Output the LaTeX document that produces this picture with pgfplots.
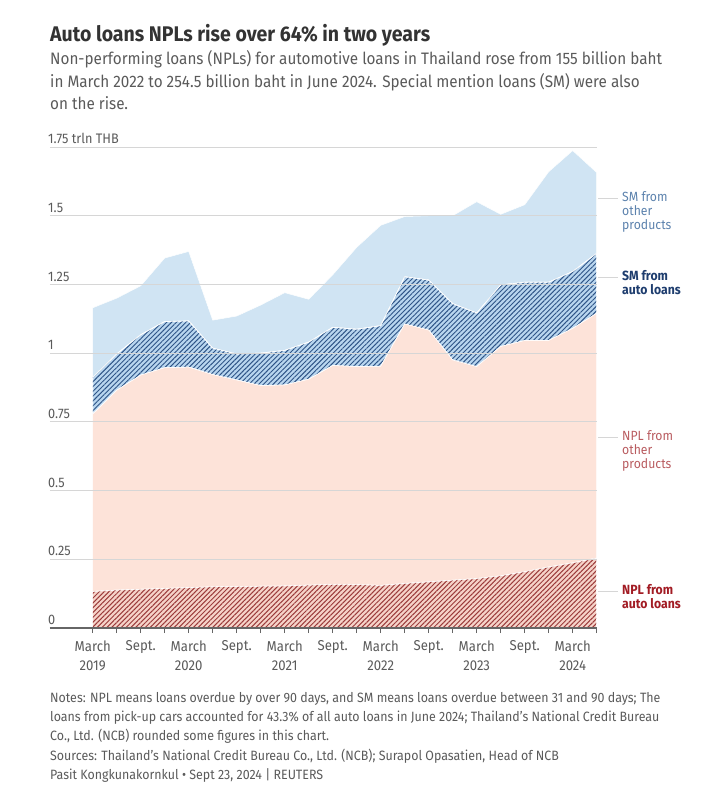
\documentclass[border=0pt]{standalone}
\usepackage{fontspec}
\setmainfont{Fira Sans}[FakeStretch=0.92]
\usepackage{pgfplots}
\pgfplotsset{compat=1.18}
\usepackage{pgfplotstable}
\usetikzlibrary{patterns.meta}

\definecolor{titlec}{HTML}{333333}
\definecolor{textc}{HTML}{5A5A5A}
\definecolor{gridc}{HTML}{D6D6D6}
\definecolor{axisc}{HTML}{666666}
\definecolor{nplpink}{HTML}{FDE3D9}
\definecolor{nplauto}{HTML}{F6D3C9}
\definecolor{nplline}{HTML}{9B3B3B}
\definecolor{smlight}{HTML}{D0E4F3}
\definecolor{smauto}{HTML}{B9D6EF}
\definecolor{smline}{HTML}{2E5487}
\definecolor{labsmo}{HTML}{5C82AD}
\definecolor{labsma}{HTML}{1E3D6E}
\definecolor{labnplo}{HTML}{B95C60}
\definecolor{labnpla}{HTML}{A21C24}

% layer increments, trillion THB, quarterly from March 2019 (0) to June 2024 (21)
\pgfplotstableread{
x  nplauto nplother smauto smother
0  0.133   0.645    0.134  0.253
1  0.138   0.727    0.132  0.203
2  0.141   0.779    0.147  0.178
3  0.144   0.803    0.168  0.231
4  0.147   0.802    0.168  0.253
5  0.150   0.772    0.096  0.102
6  0.151   0.751    0.095  0.138
7  0.152   0.730    0.118  0.175
8  0.153   0.731    0.126  0.210
9  0.156   0.749    0.135  0.156
10 0.159   0.796    0.139  0.191
11 0.158   0.793    0.136  0.298
12 0.155   0.797    0.148  0.365
13 0.162   0.944    0.172  0.219
14 0.168   0.916    0.182  0.234
15 0.174   0.801    0.205  0.320
16 0.180   0.771    0.195  0.405
17 0.190   0.834    0.224  0.257
18 0.205   0.841    0.212  0.282
19 0.222   0.824    0.212  0.402
20 0.237   0.853    0.207  0.440
21 0.2545  0.8905   0.218  0.294
}\loans

\begin{document}
\begin{tikzpicture}[x=1pt,y=1pt]
\path[use as bounding box] (0,0) rectangle (712,-792);

% Title and subtitle
\node[anchor=base west, inner sep=0, text=titlec, font=\fontsize{21.2}{24}\selectfont\bfseries] at (50,-42) {Auto loans NPLs rise over 64\% in two years};
\node[anchor=base west, inner sep=0, text=textc, font=\fontsize{16.6}{22}\selectfont] at (50,-65) {Non-performing loans (NPLs) for automotive loans in Thailand rose from 155 billion baht};
\node[anchor=base west, inner sep=0, text=textc, font=\fontsize{16.6}{22}\selectfont] at (50,-87) {in March 2022 to 254.5 billion baht in June 2024. Special mention loans (SM) were also};
\node[anchor=base west, inner sep=0, text=textc, font=\fontsize{16.6}{22}\selectfont] at (50,-109) {on the rise.};

\begin{axis}[
  at={(50pt,-628pt)}, anchor=south west,
  scale only axis, width=546.7pt, height=481pt,
  xmin=-1.78, xmax=21, ymin=0, ymax=1.75,
  stack plots=y, area style,
  axis x line*=bottom, axis y line*=left,
  y axis line style={draw=none},
  x axis line style={draw=axisc, line width=1.2pt},
  xtick={0,...,21},
  xticklabels={March\\2019,,Sept.,,March\\2020,,Sept.,,March\\2021,,Sept.,,March\\2022,,Sept.,,March\\2023,,Sept.,,March\\2024,},
  xticklabel style={align=center, text=textc, font=\fontsize{14.3}{19}\selectfont, yshift=-4pt},
  tick align=outside, major tick length=5pt,
  xtick style={draw=axisc, line width=0.8pt},
  ytick={0,0.25,0.5,0.75,1,1.25,1.5,1.75},
  yticklabels={0,0.25,0.5,0.75,1,1.25,1.5,1.75 trln THB},
  yticklabel style={anchor=south west, inner sep=0pt, xshift=3pt, yshift=3pt, text=textc, font=\fontsize{13.8}{15}\selectfont},
  ytick style={draw=none},
  ymajorgrids, grid style={gridc, line width=0.8pt},
  clip=false,
]
\addplot[fill=nplauto, draw=white, line width=0.5pt,
  postaction={pattern={Lines[angle=45,distance=3.4pt,line width=1pt]}, pattern color=nplline}]
  table[x=x,y=nplauto]{\loans} \closedcycle;
\addplot[fill=nplpink, draw=white, line width=0.5pt]
  table[x=x,y=nplother]{\loans} \closedcycle;
\addplot[fill=smauto, draw=white, line width=0.7pt,
  postaction={pattern={Lines[angle=45,distance=3.4pt,line width=0.95pt]}, pattern color=smline}]
  table[x=x,y=smauto]{\loans} \closedcycle;
\addplot[fill=smlight, draw=white, line width=0.5pt]
  table[x=x,y=smother]{\loans} \closedcycle;
\draw[axisc, line width=1.2pt] (axis cs:-1.78,0) -- (axis cs:21,0);
\end{axis}

% Right-side labels with leader lines
\draw[gridc, line width=0.8pt] (598,-198) -- (618,-198);
\node[anchor=north west, align=left, inner sep=0, text=labsmo, font=\fontsize{13.3}{14}\selectfont] at (622,-191) {SM from\\other\\products};
\draw[gridc, line width=0.8pt] (598,-277) -- (618,-277);
\node[anchor=north west, align=left, inner sep=0, text=labsma, font=\fontsize{13.3}{14}\selectfont\bfseries] at (622,-270) {SM from\\auto loans};
\draw[gridc, line width=0.8pt] (598,-437) -- (618,-437);
\node[anchor=north west, align=left, inner sep=0, text=labnplo, font=\fontsize{13.3}{14}\selectfont] at (622,-430) {NPL from\\other\\products};
\draw[gridc, line width=0.8pt] (598,-591) -- (618,-591);
\node[anchor=north west, align=left, inner sep=0, text=labnpla, font=\fontsize{13.3}{14}\selectfont\bfseries] at (622,-584) {NPL from\\auto loans};

% Notes
\node[anchor=base west, inner sep=0, text=textc, font=\fontsize{13.5}{19}\selectfont] at (50,-702) {Notes: NPL means loans overdue by over 90 days, and SM means loans overdue between 31 and 90 days; The};
\node[anchor=base west, inner sep=0, text=textc, font=\fontsize{13.5}{19}\selectfont] at (50,-721) {loans from pick-up cars accounted for 43.3\% of all auto loans in June 2024; Thailand’s National Credit Bureau};
\node[anchor=base west, inner sep=0, text=textc, font=\fontsize{13.5}{19}\selectfont] at (50,-740) {Co., Ltd. (NCB) rounded some figures in this chart.};
\node[anchor=base west, inner sep=0, text=textc, font=\fontsize{13.5}{19}\selectfont] at (50,-760) {Sources: Thailand’s National Credit Bureau Co., Ltd. (NCB); Surapol Opasatien, Head of NCB};
\node[anchor=base west, inner sep=0, text=textc, font=\fontsize{13.5}{19}\selectfont] at (50,-779) {Pasit Kongkunakornkul • Sept 23, 2024 | REUTERS};
\end{tikzpicture}
\end{document}
